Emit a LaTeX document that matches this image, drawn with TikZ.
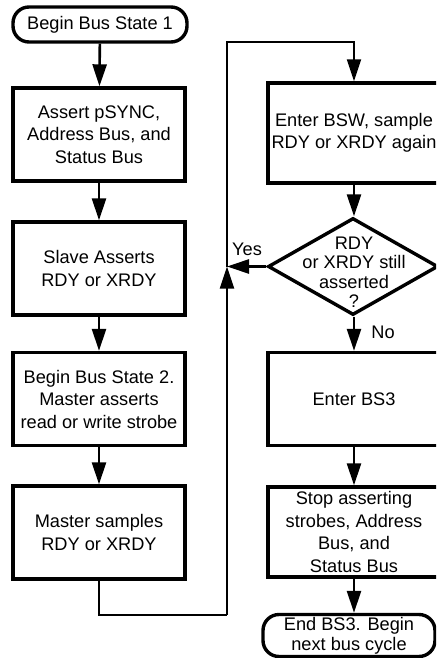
\documentclass[tikz,border=0pt]{standalone}
\usepackage{fontspec}
\setmainfont{Liberation Sans}
\usetikzlibrary{shapes.geometric,arrows.meta}

\newcommand\flowfont{\fontsize{18.2}{22.5}\selectfont}
\newcommand\tightfont{\fontsize{18.2}{19.5}\selectfont}

\tikzset{
  box/.style={draw, line width=3.4pt, minimum width=172pt, minimum height=93pt,
              align=center, inner sep=1pt, font=\flowfont},
  term/.style={draw, line width=3.4pt, rounded corners=16pt, minimum width=174pt,
               align=center, inner sep=1pt, font=\flowfont},
  decision/.style={draw, diamond, line width=3.4pt, minimum width=170pt,
                   minimum height=97pt, inner sep=0pt},
  tip/.style={-{Triangle[length=22pt,width=14pt]}},
  flow/.style={line width=2.6pt, tip},
  loopline/.style={line width=2pt},
  lbl/.style={font=\flowfont, inner sep=0pt}
}

\begin{document}
\begin{tikzpicture}[x=1pt,y=-1pt]
  \useasboundingbox (0,0) rectangle (436,658);
  \clip (0,0) rectangle (436,658);

  % left column
  \node[term, minimum height=35pt] (start) at (100,24.5) {Begin Bus State 1};
  \node[box] (b1) at (99,134.5) {Assert pSYNC,\\Address Bus, and\\Status Bus};
  \node[box] (b2) at (99,268.5) {Slave Asserts\\RDY or XRDY};
  \node[box] (b3) at (99,399) {Begin Bus State 2.\\Master asserts\\read or write strobe};
  \node[box] (b4) at (99,532.5) {Master samples\\RDY or XRDY};

  % right column
  \node[box, minimum height=100pt] (b5) at (354,133) {Enter BSW, sample\\RDY or XRDY again};
  \node[decision] (d) at (353,266.5) {};
  \node[font=\tightfont, align=center, inner sep=0pt] (dtext) at (354,272)
       {RDY\\or XRDY still\\asserted\\?};
  \node[box] (b6) at (354,399) {Enter BS3};
  \node[box, minimum height=90pt] (b7) at (354,532)
       {Stop asserting\\strobes, Address\\Bus, and\\Status Bus};
  \node[term, minimum height=42pt, minimum width=172pt,
        font=\fontsize{18.2}{20}\selectfont] (stop) at (349,635.5)
       {End BS3. Begin\\next bus cycle};

  % loop-back route
  \coordinate (j) at (227,266.5);
  \coordinate (lowturn) at (227,615);
  \coordinate (topturn) at (227,42);

  % straight flow
  \draw[flow] (start) -- (b1);
  \draw[flow] (b1) -- (b2);
  \draw[flow] (b2) -- (b3);
  \draw[flow] (b3) -- (b4);
  \draw[flow] (b5) -- (d.north -| b5.south);
  \draw[flow] (d.south -| b6.north) -- (b6);
  \draw[flow] (b6) -- (b7);
  \draw[flow] (b7.south) -- (stop.north -| b7.south);

  % back edge from master sample to wait state
  \draw[loopline] (b4.south) |- (lowturn);
  \draw[loopline, tip] (lowturn) -- (j);
  \draw[loopline, tip] (j) -- (topturn) -| (b5.north);
  \draw[flow] (d.west) -- (j);

  % branch labels
  \node[lbl] (yes) at (247,249) {Yes};
  \node[lbl] (no) at (383,332) {No};
\end{tikzpicture}
\end{document}
